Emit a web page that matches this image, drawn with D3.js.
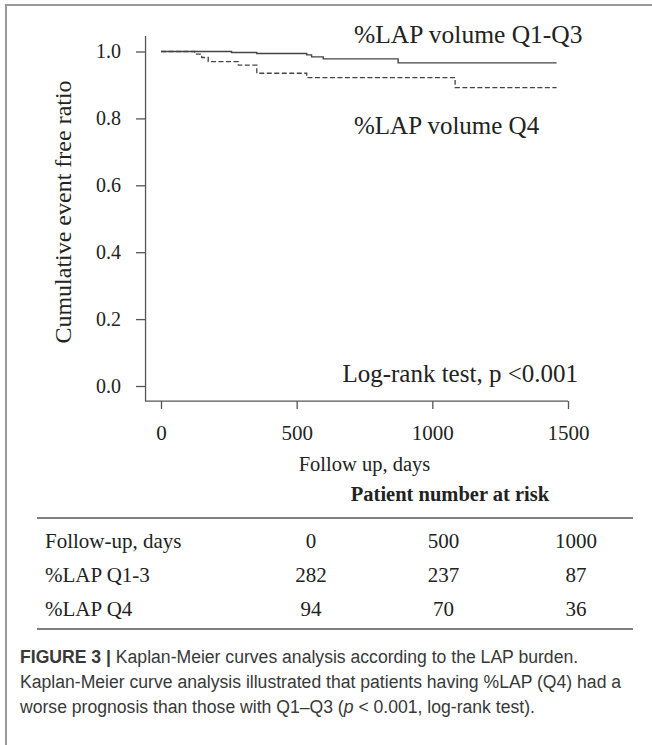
<!DOCTYPE html>
<html>
<head>
<meta charset="utf-8">
<script src="https://cdn.jsdelivr.net/npm/d3@7"></script>
<style>
  body { margin: 0; background: #fff; }
  svg text { font-family: "Liberation Serif", "Times New Roman", serif; fill: #222; }
  svg text.cap { font-family: "Liberation Sans", Arial, sans-serif; fill: #383838; }
</style>
</head>
<body>
<svg id="chart" width="652" height="745"></svg>
<script>
// Kaplan-Meier steps
const q13Days = [0, 260, 353, 537, 555, 598, 874, 1458];
const q13Surv = [1.0, 0.997, 0.994, 0.990, 0.984, 0.978, 0.966, 0.966];
const q4Days = [0, 124, 150, 174, 285, 353, 537, 1084, 1458];
const q4Surv = [1.0, 0.992, 0.982, 0.970, 0.959, 0.935, 0.922, 0.892, 0.892];

const xTicks = [0, 500, 1000, 1500];
const yTicks = [0, 0.2, 0.4, 0.6, 0.8, 1.0];

const riskCols = ["0", "500", "1000"];
const riskRows = ["Follow-up, days", "%LAP Q1-3", "%LAP Q4"];
const riskQ13 = [282, 237, 87];
const riskQ4 = [94, 70, 36];

const captionLines = [
  "Kaplan-Meier curves analysis according to the LAP burden.",
  "Kaplan-Meier curve analysis illustrated that patients having %LAP (Q4) had a",
  "worse prognosis than those with Q1\u2013Q3 ("
];

const svg = d3.select("#chart");

// frame
svg.append("path")
  .attr("d", "M6,745V5H652")
  .attr("fill", "none")
  .attr("stroke", "#999")
  .attr("stroke-width", 2);

const x = d3.scaleLinear().domain([0, 1500]).range([161, 568]);
const y = d3.scaleLinear().domain([0, 1]).range([386, 51.5]);

// axis box (L shape)
svg.append("path")
  .attr("d", `M${x(-57)},36V${y(-0.045)}H${x(1500)}`)
  .attr("fill", "none")
  .attr("stroke", "#555")
  .attr("stroke-width", 1.3);

const yAxis = svg.append("g")
  .attr("transform", `translate(${x(-57)},0)`)
  .call(d3.axisLeft(y).tickValues(yTicks).tickFormat(d3.format(".1f"))
    .tickSize(9.5).tickPadding(15));
const xAxis = svg.append("g")
  .attr("transform", `translate(0,${y(-0.045)})`)
  .call(d3.axisBottom(x).tickValues(xTicks).tickFormat(d3.format("d"))
    .tickSize(8).tickPadding(16));

[yAxis, xAxis].forEach(g => {
  g.select(".domain").remove();
  g.selectAll(".tick line").attr("stroke", "#555").attr("stroke-width", 1.3);
  g.selectAll(".tick text").style("font-family", "Liberation Serif").attr("fill", "#222");
});
yAxis.selectAll(".tick text").style("font-size", "20px");
xAxis.selectAll(".tick text").style("font-size", "21px");

// curves
const line = d3.line().x(d => x(d[0])).y(d => y(d[1])).curve(d3.curveStepAfter);
svg.append("path")
  .datum(q13Days.map((d, i) => [d, q13Surv[i]]))
  .attr("d", line)
  .attr("fill", "none")
  .attr("stroke", "#444")
  .attr("stroke-width", 1.4);
svg.append("path")
  .datum(q4Days.map((d, i) => [d, q4Surv[i]]))
  .attr("d", line)
  .attr("fill", "none")
  .attr("stroke", "#444")
  .attr("stroke-width", 1.3)
  .attr("stroke-dasharray", "5,2.5");

// labels in the plot
svg.append("text").attr("x", 354).attr("y", 43).style("font-size", "25.5px").text("%LAP volume Q1-Q3");
svg.append("text").attr("x", 354).attr("y", 134).style("font-size", "25px").text("%LAP volume Q4");
svg.append("text").attr("x", 578).attr("y", 382).attr("text-anchor", "end").style("font-size", "25px").text("Log-rank test, p <0.001");

svg.append("text")
  .attr("transform", "translate(71,212) rotate(-90)")
  .attr("text-anchor", "middle")
  .style("font-size", "24px")
  .text("Cumulative event free ratio");

svg.append("text").attr("x", x(750)).attr("y", 471).attr("text-anchor", "middle")
  .style("font-size", "20.5px").text("Follow up, days");

// risk table
svg.append("text").attr("x", 450).attr("y", 501).attr("text-anchor", "middle")
  .style("font-size", "20.5px").style("font-weight", "bold").text("Patient number at risk");

svg.append("line").attr("x1", 37).attr("x2", 633).attr("y1", 518).attr("y2", 518)
  .attr("stroke", "#555").attr("stroke-width", 1.5);
svg.append("line").attr("x1", 37).attr("x2", 633).attr("y1", 629).attr("y2", 629)
  .attr("stroke", "#555").attr("stroke-width", 1.5);

const colX = d3.scalePoint().domain(riskCols).range([311, 576]);
const rowY = d3.scalePoint().domain(riskRows).range([548, 616]);
const cells = [riskCols, riskQ13, riskQ4];

riskRows.forEach((r, i) => {
  svg.append("text").attr("x", 45).attr("y", rowY(r)).style("font-size", "21px").text(r);
  svg.selectAll(null).data(cells[i]).enter().append("text")
    .attr("x", (d, j) => colX(riskCols[j]))
    .attr("y", rowY(r))
    .attr("text-anchor", "middle")
    .style("font-size", "21px")
    .text(d => d);
});

// caption
const capSize = "17.6px";
const cap1 = svg.append("text").attr("class", "cap").attr("x", 20).attr("y", 663).style("font-size", capSize);
cap1.append("tspan").style("font-weight", "bold").text("FIGURE 3 | ");
cap1.append("tspan").text(captionLines[0]);
svg.append("text").attr("class", "cap").attr("x", 20).attr("y", 688).style("font-size", capSize).text(captionLines[1]);
const cap3 = svg.append("text").attr("class", "cap").attr("x", 20).attr("y", 713).style("font-size", capSize);
cap3.append("tspan").text(captionLines[2]);
cap3.append("tspan").style("font-style", "italic").text("p");
cap3.append("tspan").text(" < 0.001, log-rank test).");
</script>
</body>
</html>
